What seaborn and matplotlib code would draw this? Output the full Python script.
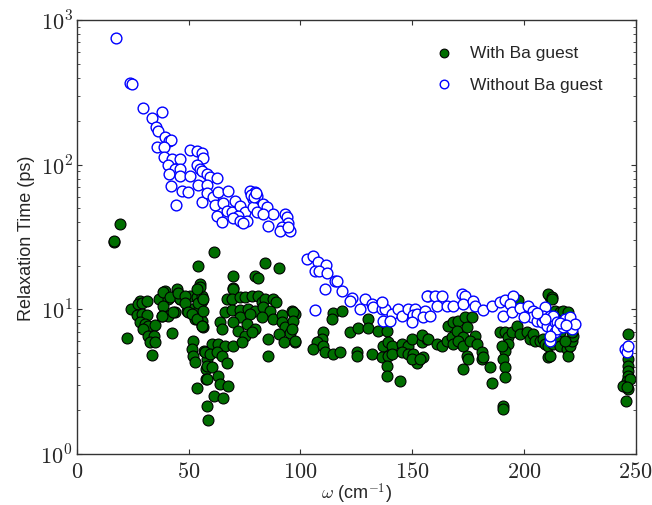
import numpy as np
import pandas as pd
import seaborn as sns
import matplotlib
matplotlib.use("Agg")
import matplotlib.pyplot as plt
from matplotlib.ticker import FuncFormatter, LogLocator

# Phonon relaxation times (ps) versus frequency omega (cm^-1)
with_ba_omega = [
    16.5, 16.5, 19.2, 61.3, 54.1, 84.1, 90.3, 69.8, 79.6, 80.9, 69.8,
    24.2, 22.4, 28.2, 27.3, 29.1, 31.3, 26.8, 29.1, 31.3, 28.2, 30.4, 31.8, 34.9,
    29.5, 31.8, 34.4, 32.6, 34.9, 33.5, 42.5, 36.7, 40.7, 39.4, 44.7, 45.2, 46.1,
    38.5, 38.0, 40.7, 43.8, 50.5, 54.1, 55.0, 53.7, 55.9, 49.2, 51.4, 54.1, 52.8,
    55.9, 56.4, 51.9, 51.4, 51.9, 52.8, 56.8, 58.1, 57.7, 57.7, 53.7, 58.1, 58.6,
    38.5, 41.5, 46.1, 45.2, 48.3, 38.0, 42.9, 48.3, 49.6, 51.4, 53.7, 55.9, 54.1,
    55.9, 55.0, 53.7, 69.8, 67.1, 69.3, 72.9, 75.1, 78.3, 80.9, 82.7, 84.1, 87.7,
    89.0, 66.2, 69.3, 72.9, 76.5, 79.6, 83.2, 86.3, 72.9, 77.4, 82.7, 87.7, 91.7,
    96.2, 97.5, 64.0, 69.8, 76.0, 79.6, 91.7, 93.0, 95.3, 90.3, 64.8, 72.0, 75.1,
    78.3, 85.4, 92.6, 97.5, 85.4, 56.4, 55.9, 56.4, 60.4, 63.1, 66.2, 69.8, 73.8,
    57.2, 59.5, 62.6, 64.8, 58.1, 60.4, 67.1, 58.1, 63.1, 64.0, 67.5, 61.3, 65.3,
    96.6, 96.6, 96.2, 97.5, 114.5, 118.5, 114.0, 110.0, 109.6, 107.3, 105.5,
    110.0, 110.9, 114.5, 117.6, 122.1, 125.7, 130.1, 130.1, 134.6, 138.6, 125.2,
    125.2, 131.9, 136.9, 139.1, 140.9, 145.3, 148.0, 149.8, 154.3, 136.4, 139.1,
    140.9, 145.3, 148.0, 150.3, 152.1, 149.8, 138.6, 138.6, 144.5, 156.5, 154.3,
    157.0, 154.7, 153.4, 161.0, 163.2, 165.5, 167.7, 165.9, 168.2, 170.4, 173.5,
    176.7, 169.9, 172.6, 174.4, 178.0, 168.2, 170.4, 172.6, 175.8, 178.9, 174.4,
    174.9, 181.1, 181.1, 181.6, 184.7, 185.6, 172.6, 189.2, 191.4, 192.8, 194.5,
    192.8, 191.4, 190.5, 191.4, 191.4, 190.1, 190.5, 190.5, 196.8, 197.2, 198.1,
    201.3, 202.6, 203.9, 204.8, 207.1, 208.4, 210.6, 211.5, 210.6, 209.3, 210.6,
    212.9, 214.7, 213.8, 212.4, 212.4, 211.5, 216.0, 215.1, 216.0, 219.1, 219.5,
    220.5, 221.4, 221.8, 221.4, 218.2, 216.0, 217.4, 219.5, 246.4, 246.4, 246.4,
    246.4, 246.4, 246.0, 245.1, 246.4, 245.5, 247.3, 244.2, 246.0,
]
with_ba_tau = [
    29.2, 29.7, 38.9, 24.9, 19.9, 20.9, 19.3, 17.0, 17.0, 16.5, 14.0,
    10.05, 6.3, 11.4, 10.9, 11.1, 11.4, 9.1, 9.3, 9.1, 8.2, 7.9, 7.7, 7.8,
    7.3, 6.5, 6.5, 5.95, 5.95, 4.8, 6.9, 11.8, 11.8, 13.4, 13.8, 12.8, 11.8,
    10.5, 9.0, 9.0, 9.6, 12.4, 13.8, 15.0, 12.2, 11.4, 9.7, 10.05, 9.7, 8.6,
    8.3, 7.5, 6.0, 5.3, 4.75, 4.3, 5.15, 4.5, 3.87, 3.3, 2.86, 2.15, 1.72,
    13.2, 12.2, 11.8, 13.0, 12.4, 9.0, 9.6, 11.1, 9.6, 9.3, 8.6, 7.7, 11.1,
    12.4, 14.3, 13.8, 13.8, 11.8, 11.8, 12.2, 12.2, 12.4, 12.4, 11.2, 11.8, 11.8,
    11.2, 9.6, 9.9, 9.9, 10.05, 9.7, 10.4, 9.7, 8.85, 9.3, 8.85, 8.6, 9.1,
    9.7, 9.3, 8.2, 8.2, 7.9, 7.3, 8.2, 7.5, 6.9, 6.75, 7.3, 7.1, 6.5,
    7.0, 6.2, 5.95, 5.95, 4.75, 11.8, 7.7, 9.7, 5.8, 5.8, 5.6, 5.6, 5.95,
    5.1, 4.9, 5.1, 4.75, 4.06, 4.0, 4.25, 3.3, 3.46, 3.05, 2.95, 2.52, 2.44,
    9.6, 8.3, 7.3, 6.0, 9.4, 9.7, 8.6, 7.0, 6.2, 5.95, 5.3,
    5.6, 5.1, 4.9, 5.1, 7.0, 7.4, 8.6, 7.4, 7.1, 7.1, 5.1,
    4.75, 4.9, 5.6, 5.95, 5.6, 5.8, 5.6, 6.2, 5.95, 4.7, 4.75,
    4.9, 5.1, 4.9, 4.9, 4.25, 4.5, 4.06, 3.46, 3.2, 6.2, 6.6,
    6.2, 4.7, 4.5, 5.8, 5.6, 6.0, 6.4, 7.7, 8.2, 8.3, 8.85,
    8.85, 7.1, 6.4, 7.5, 6.5, 5.8, 6.0, 5.6, 6.0, 5.8, 4.75,
    4.5, 5.1, 4.5, 4.7, 4.0, 3.1, 3.87, 7.0, 7.0, 6.4, 7.0,
    5.8, 5.15, 4.5, 4.0, 3.4, 5.6, 2.15, 2.05, 7.7, 11.6, 6.75,
    7.0, 6.2, 6.75, 6.0, 6.0, 6.2, 4.7, 12.2, 12.8, 5.8, 5.6,
    5.8, 6.1, 9.7, 12.2, 11.8, 4.75, 7.0, 6.0, 5.6, 5.3, 4.75,
    5.6, 6.0, 6.5, 7.0, 6.0, 9.6, 9.7, 9.6, 6.75, 4.5, 4.06,
    3.75, 3.46, 3.2, 2.95, 2.8, 2.33, 3.3, 2.95, 2.9,
]

without_ba_omega = [
    17.4, 23.7, 24.6, 29.5, 38.0, 33.5, 35.3, 36.2, 39.4, 41.1, 42.0, 35.8, 38.9,
    38.9, 42.5, 46.1, 40.7, 43.8, 46.1, 41.1, 46.1, 50.5, 50.5, 53.7, 55.9, 56.4,
    53.7, 55.0, 55.9, 58.1, 59.5, 62.6, 54.1, 58.1, 42.0, 47.0, 49.6, 44.3, 55.9,
    58.1, 60.8, 63.1, 61.7, 65.3, 67.5, 67.1, 69.3, 62.6, 64.8, 70.7, 72.9, 75.1,
    72.0, 69.8, 72.9, 76.0, 74.2, 77.4, 79.6, 80.5, 78.7, 83.2, 85.0, 87.7, 78.7,
    80.5, 83.2, 85.4, 93.0, 93.9, 94.4, 91.7, 90.8, 95.3, 94.4, 78.0, 79.0, 80.0,
    102.9, 105.5, 107.8, 111.4, 106.4, 108.2, 111.8, 115.4, 116.3, 110.9, 118.5,
    123.0, 122.1, 128.8, 131.9, 132.4, 126.6, 136.4, 137.7, 140.9, 136.9, 140.0,
    143.6, 145.3, 148.0, 151.2, 150.3, 152.1, 149.8, 155.6, 154.7, 157.0, 156.5,
    160.1, 163.2, 157.9, 161.0, 165.5, 168.2, 172.2, 173.5, 172.6, 177.1, 178.0,
    181.6, 185.6, 189.2, 191.4, 195.0, 193.6, 190.5, 194.5, 198.1, 201.7, 203.9,
    203.5, 205.7, 208.0, 209.3, 208.4, 211.5, 210.2, 212.4, 213.8, 213.8, 211.5,
    212.9, 214.7, 214.7, 218.2, 217.4, 220.5, 221.4, 222.7, 211.5, 245.1, 246.0,
    246.4, 106.4, 136.4, 209.3, 216.0, 219.0, 206.0, 200.0,
]
without_ba_tau = [
    750, 367, 360, 246, 231, 210, 182, 171, 155, 146, 148, 132, 132,
    113, 109, 109, 99.5, 93.4, 93.4, 86.2, 83.5, 83.5, 126, 124, 120, 111,
    99.5, 93.4, 90.4, 86.2, 82.2, 80.9, 72.1, 72.1, 71.1, 65.7, 64.7, 52.6, 55.2,
    63.7, 59.8, 64.7, 52.6, 54.3, 65.7, 47.8, 47.1, 44.2, 40.2, 56.1, 51.8, 47.1,
    44.2, 42.8, 40.8, 40.8, 39.5, 65.7, 64.7, 60.7, 57.9, 53.5, 51.0, 45.6, 51.0,
    47.1, 45.6, 37.7, 45.6, 43.5, 39.5, 37.1, 34.8, 34.8, 37.1, 62.0, 60.0, 64.0,
    22.3, 23.4, 21.2, 20.2, 18.4, 18.4, 17.8, 15.6, 15.7, 13.8, 13.4,
    12.0, 11.4, 11.8, 10.9, 10.4, 10.0, 10.0, 10.0, 9.3, 8.3, 8.3,
    10.0, 9.0, 10.0, 10.0, 9.2, 9.3, 8.2, 9.7, 8.9, 12.4, 12.4,
    12.4, 12.4, 9.0, 10.5, 10.5, 10.5, 12.8, 12.4, 10.9, 11.4, 10.5,
    9.9, 10.5, 11.2, 11.6, 12.4, 10.9, 9.0, 9.6, 10.2, 10.5, 9.7,
    8.9, 8.3, 8.2, 10.4, 9.0, 9.0, 7.7, 7.3, 8.2, 7.0, 6.0,
    9.0, 8.2, 7.3, 8.6, 7.6, 8.9, 7.3, 7.9, 6.5, 5.3, 5.1,
    5.6, 9.9, 11.2, 8.6, 8.0, 7.8, 9.4, 8.9,
]

legend_labels = ["With Ba guest", "Without Ba guest"]

df = pd.concat([
    pd.DataFrame({"omega": with_ba_omega, "tau": with_ba_tau, "set": legend_labels[0]}),
    pd.DataFrame({"omega": without_ba_omega, "tau": without_ba_tau, "set": legend_labels[1]}),
], ignore_index=True)

sns.set_style("ticks")
plt.rcParams["mathtext.fontset"] = "cm"
plt.rcParams["font.family"] = ["Liberation Sans", "DejaVu Sans"]

fig = plt.figure(figsize=(6.52, 5.06), dpi=100)
ax = fig.add_axes([0.118, 0.1008, 0.857, 0.8577])

sns.scatterplot(data=df[df["set"] == legend_labels[0]], x="omega", y="tau", ax=ax,
                color="#006e00", edgecolor="black", linewidth=0.8, s=62,
                label=legend_labels[0], zorder=2)
sns.scatterplot(data=df[df["set"] == legend_labels[1]], x="omega", y="tau", ax=ax,
                facecolor="white", edgecolor="#0000ff", linewidth=1.0, s=60,
                label=legend_labels[1], zorder=3)

ax.set_yscale("log")
ax.set_xlim(0, 250)
ax.set_ylim(1, 1000)
ax.set_xticks([0, 50, 100, 150, 200, 250])
ax.xaxis.set_major_formatter(FuncFormatter(lambda v, p: f"${v:g}$"))
ax.yaxis.set_major_locator(LogLocator(base=10, numticks=10))
ax.yaxis.set_major_formatter(FuncFormatter(lambda v, p: f"$10^{{{int(round(np.log10(v)))}}}$"))

ax.tick_params(which="both", direction="in", top=True, right=True, labelsize=16, color="#333333")
ax.tick_params(which="major", length=3.5, width=0.8)
ax.tick_params(which="minor", length=2, width=0.6)
ax.tick_params(axis="x", which="major", pad=5)
ax.tick_params(axis="y", which="major", pad=3)
for sp in ax.spines.values():
    sp.set_color("#333333")
    sp.set_linewidth(1.0)

ax.set_xlabel(r"$\omega$ (cm$^{-1}$)", fontsize=13, labelpad=-1)
ax.set_ylabel("Relaxation Time (ps)", fontsize=13, labelpad=4)

leg = ax.legend(loc="upper right", bbox_to_anchor=(0.968, 0.978), frameon=False,
                fontsize=12.5, markerscale=0.8, labelspacing=0.95, handletextpad=0.5,
                scatterpoints=1)

fig.savefig("out.png", dpi=100)
